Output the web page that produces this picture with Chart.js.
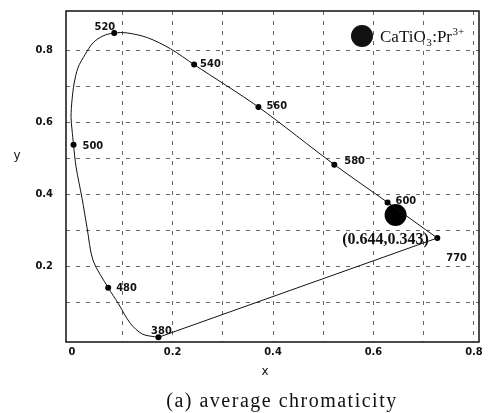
<!DOCTYPE html>
<html>
<head>
<meta charset="utf-8">
<title>Average chromaticity</title>
<script src="https://cdn.jsdelivr.net/npm/chart.js@4/dist/chart.umd.min.js"></script>
<style>
  html, body { margin: 0; padding: 0; background: #fff; }
  #wrap { width: 493px; height: 413px; }
</style>
</head>
<body>
<div id="wrap"><canvas id="cie" width="493" height="413"></canvas></div>
<script>
// spectral locus, 380 nm round to 770 nm
const locusX = [0.172, 0.140, 0.116, 0.092, 0.072, 0.042, 0.030, 0.020, 0.008, 0.003,
  0.000, -0.002, 0.000, 0.004, 0.012, 0.026, 0.042, 0.062, 0.084, 0.110,
  0.150, 0.196, 0.243, 0.371, 0.522, 0.628, 0.727];
const locusY = [0.003, 0.012, 0.042, 0.097, 0.141, 0.216, 0.307, 0.389, 0.477, 0.538,
  0.580, 0.616, 0.663, 0.707, 0.753, 0.789, 0.822, 0.841, 0.849, 0.849,
  0.836, 0.805, 0.761, 0.643, 0.483, 0.378, 0.279];

// wavelengths marked with a dot and a label
const markNm = ['380', '480', '500', '520', '540', '560', '580', '600', '770'];
const markX = [0.172, 0.072, 0.003, 0.084, 0.243, 0.371, 0.522, 0.628, 0.727];
const markY = [0.003, 0.141, 0.538, 0.849, 0.761, 0.643, 0.483, 0.378, 0.279];

// measured colour point of the phosphor
const sampleName = 'CaTiO';
const sampleX = 0.644;
const sampleY = 0.343;

const xTicks = [0, 0.1, 0.2, 0.3, 0.4, 0.5, 0.6, 0.7, 0.8];
const yTicks = [0.1, 0.2, 0.3, 0.4, 0.5, 0.6, 0.7, 0.8];

// label placement next to each marked dot: dx, dy, align
const markLabelPos = {
  '380': [3, -6, 'center'], '480': [8, 0, 'left'], '500': [9, 1, 'left'],
  '520': [1, -6, 'right'], '540': [6, 0, 'left'], '560': [8, -1, 'left'],
  '580': [10, -3, 'left'], '600': [8, -1, 'left'], '770': [9, 20, 'left']
};

const smallFont = 'bold 11px "DejaVu Sans Condensed", "DejaVu Sans", sans-serif';
const gridColor = 'rgba(0,0,0,0.6)';

const locus = locusX.map((x, i) => ({ x, y: locusY[i] }));
const purple = [locus[locus.length - 1], locus[0]];
const marks = markX.map((x, i) => ({ x, y: markY[i] }));

const evenTenth = v => Math.round(v * 10) % 2 === 0;

const annotate = {
  id: 'annotate',
  afterDraw(chart) {
    const { ctx, chartArea: a } = chart;
    ctx.save();

    // frame round the plot
    ctx.strokeStyle = '#111';
    ctx.lineWidth = 1.5;
    ctx.strokeRect(a.left, a.top, a.right - a.left, a.bottom - a.top);

    // wavelength labels
    ctx.fillStyle = '#111';
    ctx.font = smallFont;
    ctx.textBaseline = 'middle';
    chart.getDatasetMeta(2).data.forEach((pt, i) => {
      const [dx, dy, align] = markLabelPos[markNm[i]];
      ctx.textAlign = align;
      ctx.fillText(markNm[i], pt.x + dx, pt.y + dy);
    });

    // coordinates of the sample point
    const s = chart.getDatasetMeta(3).data[0];
    ctx.font = 'bold 16px "Liberation Serif", serif';
    ctx.textAlign = 'center';
    ctx.fillText('(' + sampleX + ',' + sampleY + ')', s.x - 10, s.y + 25);

    // legend inside the plot
    const lx = a.right - 117, ly = a.top + 25;
    ctx.beginPath();
    ctx.arc(lx, ly, 11, 0, Math.PI * 2);
    ctx.fill();
    let tx = lx + 18;
    ctx.textAlign = 'left';
    ctx.textBaseline = 'alphabetic';
    const parts = [
      [sampleName, 17, 0], ['3', 11, 4], [':Pr', 17, 0], ['3+', 11, -7]
    ];
    parts.forEach(([t, size, shift]) => {
      ctx.font = size + 'px "Liberation Serif", serif';
      ctx.fillText(t, tx, ly + 6 + shift);
      tx += ctx.measureText(t).width + 0.5;
    });

    // axis names and caption
    ctx.font = '12px "DejaVu Sans", sans-serif';
    ctx.textAlign = 'center';
    ctx.textBaseline = 'middle';
    ctx.fillText('y', a.left - 49, a.top + 145);
    ctx.fillText('x', a.left + 199, a.bottom + 30);
    ctx.font = '20px "Liberation Serif", serif';
    ctx.letterSpacing = '1.5px';
    ctx.textBaseline = 'alphabetic';
    ctx.fillText('(a) average chromaticity', a.left + 216, a.bottom + 65);
    ctx.restore();
  }
};

new Chart(document.getElementById('cie'), {
  type: 'scatter',
  data: {
    datasets: [
      {
        data: locus, showLine: true, tension: 0.3,
        borderColor: '#111', borderWidth: 1, pointRadius: 0
      },
      {
        data: purple, showLine: true, tension: 0,
        borderColor: '#111', borderWidth: 1, pointRadius: 0
      },
      {
        data: marks, pointRadius: 3, pointBackgroundColor: '#000',
        pointBorderWidth: 0
      },
      {
        data: [{ x: sampleX, y: sampleY }], pointRadius: 11,
        pointBackgroundColor: '#000', pointBorderWidth: 0
      }
    ]
  },
  options: {
    responsive: false,
    animation: false,
    layout: { padding: { left: 0, top: 8, right: 14, bottom: 0 } },
    plugins: { legend: { display: false }, tooltip: { enabled: false } },
    scales: {
      x: {
        type: 'linear', min: -0.012, max: 0.81,
        afterBuildTicks: s => { s.ticks = xTicks.map(value => ({ value })); },
        afterFit: s => { s.height = 71; s.paddingLeft = 0; s.paddingRight = 0; },
        ticks: {
          padding: 4, color: '#111', font: { family: '"DejaVu Sans Condensed", "DejaVu Sans"', size: 11, weight: 'bold' },
          maxRotation: 0, autoSkip: false,
          callback: v => (evenTenth(v) ? (v === 0 ? '0' : v.toFixed(1)) : '')
        },
        grid: {
          drawTicks: false, lineWidth: 1,
          color: c => (c.tick && c.tick.value === 0 ? 'rgba(0,0,0,0)' : gridColor)
        },
        border: { display: false, dash: [4, 6] }
      },
      y: {
        type: 'linear', min: -0.01, max: 0.91,
        afterBuildTicks: s => { s.ticks = yTicks.map(value => ({ value })); },
        afterFit: s => { s.width = 66; s.paddingTop = 0; s.paddingBottom = 0; },
        ticks: {
          padding: 13, color: '#111', font: { family: '"DejaVu Sans Condensed", "DejaVu Sans"', size: 11, weight: 'bold' },
          autoSkip: false,
          callback: v => (evenTenth(v) ? v.toFixed(1) : '')
        },
        grid: { drawTicks: false, lineWidth: 1, color: gridColor },
        border: { display: false, dash: [4, 6] }
      }
    }
  },
  plugins: [annotate]
});
</script>
</body>
</html>
